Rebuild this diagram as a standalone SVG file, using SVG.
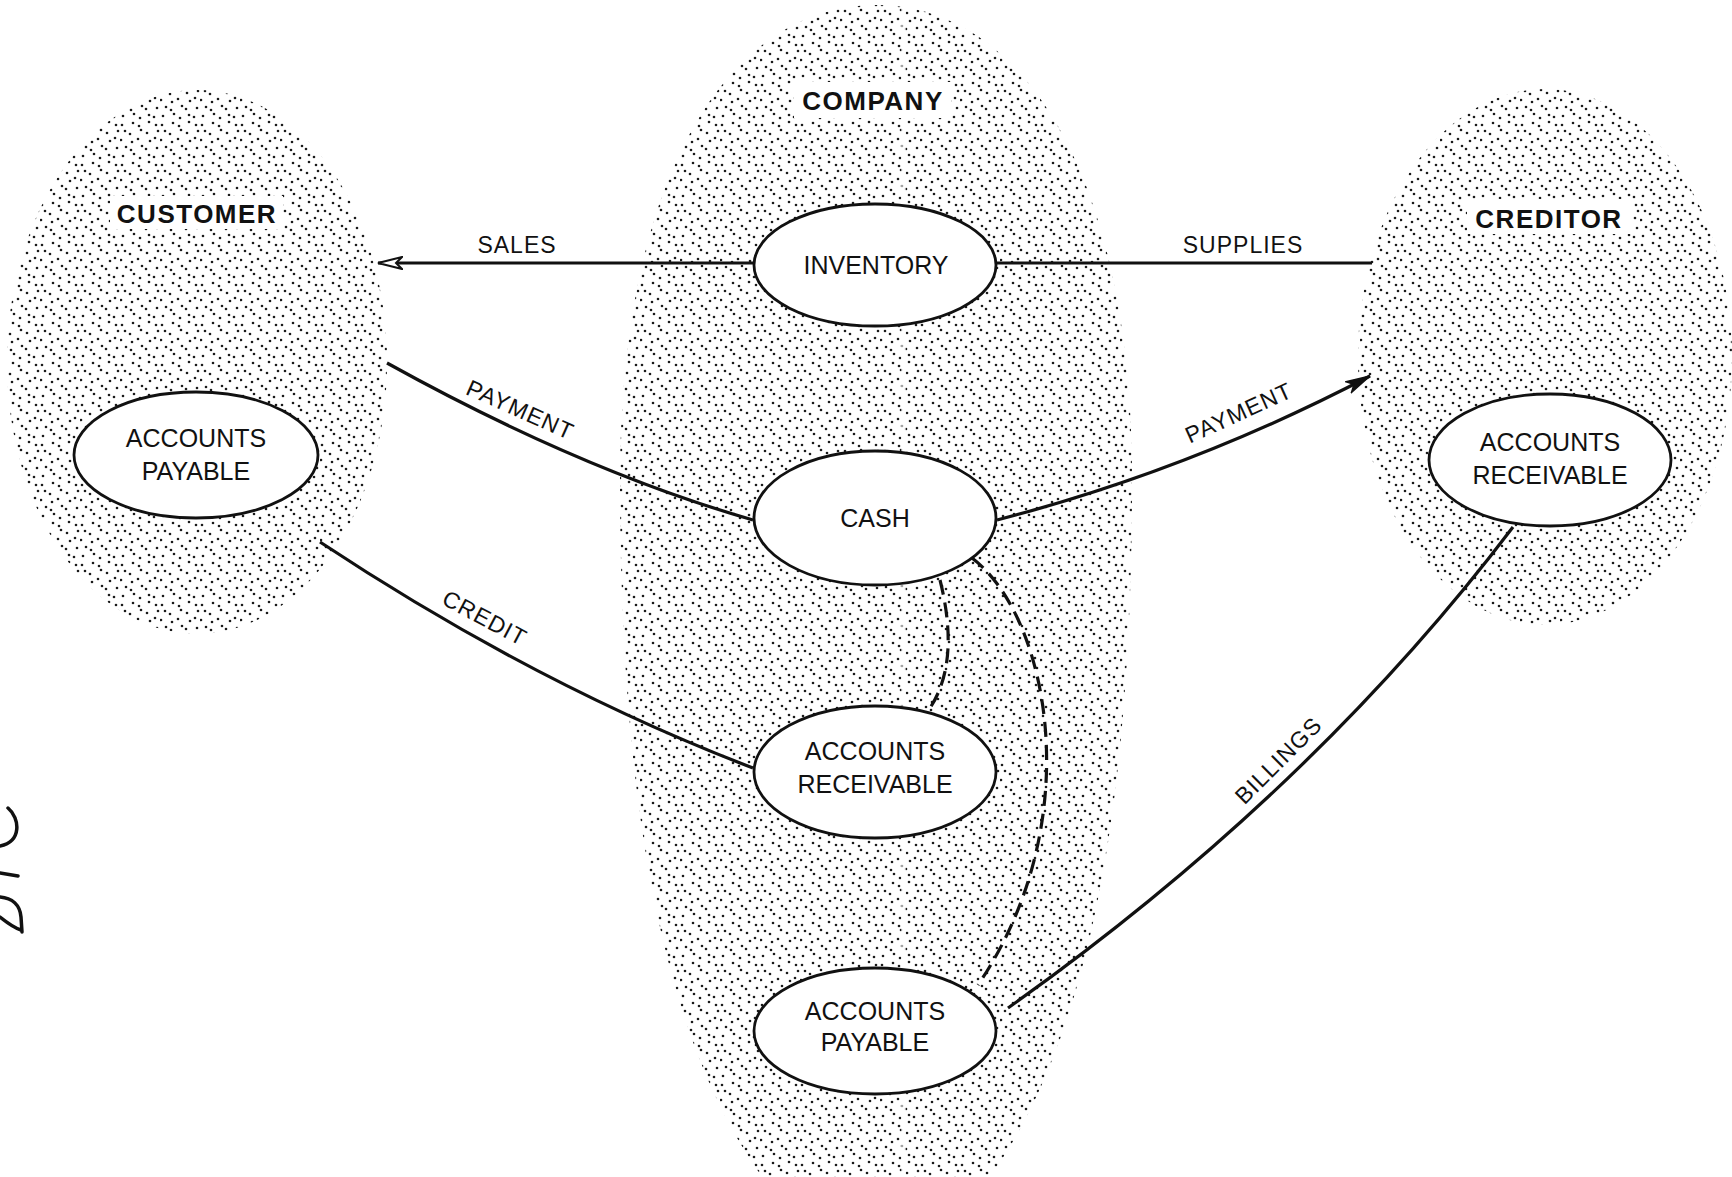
<svg xmlns="http://www.w3.org/2000/svg" width="1732" height="1177" viewBox="0 0 1732 1177">
<style>
.hdr{font-family:"Liberation Sans",Arial,sans-serif;font-size:26px;font-weight:bold;letter-spacing:1.5px;text-anchor:middle;fill:#111}
.node{font-family:"Liberation Sans",Arial,sans-serif;font-size:25px;text-anchor:middle;fill:#111}
.lbl{font-family:"Liberation Sans",Arial,sans-serif;font-size:23px;letter-spacing:1px;text-anchor:middle;fill:#111}
.blob{fill:url(#stipple)}
.oval{fill:#fff;stroke:#111;stroke-width:2.8}
.conn{fill:none;stroke:#111;stroke-width:3.2}
.dash{fill:none;stroke:#111;stroke-width:3.2;stroke-dasharray:15 8}
.box{fill:#fff}
.hand{fill:none;stroke:#111;stroke-width:3.5;stroke-linecap:round}
</style>
<defs>
<pattern id="stipple" width="40" height="40" patternUnits="userSpaceOnUse">
<g fill="#1a1a1a">
<circle cx="2" cy="5" r="1.3"/><circle cx="13" cy="3" r="1.3"/><circle cx="19" cy="6" r="1.3"/><circle cx="29" cy="2" r="1.3"/><circle cx="36" cy="5" r="1.3"/>
<circle cx="5" cy="11" r="1.3"/><circle cx="10" cy="14" r="1.3"/><circle cx="21" cy="10" r="1.3"/><circle cx="27" cy="13" r="1.3"/><circle cx="38" cy="11" r="1.3"/>
<circle cx="1" cy="20" r="1.3"/><circle cx="12" cy="22" r="1.3"/><circle cx="18" cy="19" r="1.3"/><circle cx="30" cy="21" r="1.3"/><circle cx="35" cy="18" r="1.3"/>
<circle cx="6" cy="27" r="1.3"/><circle cx="11" cy="30" r="1.3"/><circle cx="22" cy="26" r="1.3"/><circle cx="26" cy="29" r="1.3"/><circle cx="37" cy="28" r="1.3"/>
<circle cx="3" cy="36" r="1.3"/><circle cx="14" cy="34" r="1.3"/><circle cx="20" cy="38" r="1.3"/><circle cx="29" cy="35" r="1.3"/><circle cx="34" cy="37" r="1.3"/>
</g>
</pattern>
<marker id="arrowOpen" viewBox="0 0 26 14" refX="25" refY="7" markerWidth="26" markerHeight="14" markerUnits="userSpaceOnUse" orient="auto">
<path d="M1,1 L25,7 L1,13 L7,7 Z" fill="#fff" stroke="#111" stroke-width="2"/>
</marker>
<marker id="arrowFilled" viewBox="0 0 26 14" refX="25" refY="7" markerWidth="26" markerHeight="14" markerUnits="userSpaceOnUse" orient="auto">
<path d="M1,1 L25,7 L1,13 L7,7 Z" fill="#111" stroke="#111" stroke-width="1.5"/>
</marker>
</defs>
<rect width="1732" height="1177" fill="#fff"/>

<g id="customer">
<ellipse class="blob" cx="197" cy="362" rx="190" ry="272"/>
<rect class="box" x="110" y="196" width="173" height="33"/>
<text class="hdr" x="197" y="223">CUSTOMER</text>
</g>

<g id="company">
<path class="blob" d="M876,5 C1020,5 1132,170 1132,480 C1132,800 1090,1050 980,1190 L772,1190 C662,1050 620,800 620,480 C620,170 732,5 876,5 Z"/>
<rect x="901" y="5" width="5" height="1172" fill="#fff" opacity="0.6"/>
<rect class="box" x="794" y="82" width="157" height="36"/>
<text class="hdr" x="873" y="110">COMPANY</text>
</g>

<g id="creditor">
<ellipse class="blob" cx="1545" cy="357" rx="187" ry="268"/>
<rect class="box" x="1467" y="199" width="165" height="35"/>
<text class="hdr" x="1549" y="228">CREDITOR</text>
</g>

<g id="connectors">
<path class="conn" d="M755,263 L378,263" marker-end="url(#arrowOpen)"/>
<path class="conn" d="M996,263 L1372,263"/>
<path class="conn" d="M387,363 Q580,470 753,520"/>
<path class="conn" d="M997,520 Q1190,470 1370,376" marker-end="url(#arrowFilled)"/>
<path class="conn" d="M320,542 Q536,685 753,768"/>
<path class="conn" d="M1008,1008 Q1311,793 1513,527"/>
<path class="dash" d="M940,580 C950,620 955,670 930,708"/>
<path class="dash" d="M972,558 C1048,615 1090,820 978,985"/>
<text class="lbl" x="517" y="253">SALES</text>
<text class="lbl" x="1243" y="253">SUPPLIES</text>
<text class="lbl" transform="translate(517,417) rotate(24)">PAYMENT</text>
<text class="lbl" transform="translate(1242,420) rotate(-24.5)">PAYMENT</text>
<text class="lbl" transform="translate(481,625) rotate(28)">CREDIT</text>
<text class="lbl" transform="translate(1284,766) rotate(-45)">BILLINGS</text>
</g>

<g id="customer-ap">
<ellipse class="oval" cx="196" cy="455" rx="122" ry="63"/>
<text class="node" x="196" y="447">ACCOUNTS</text>
<text class="node" x="196" y="480">PAYABLE</text>
</g>

<g id="inventory">
<ellipse class="oval" cx="875" cy="265" rx="121" ry="61"/>
<text class="node" x="876" y="274">INVENTORY</text>
</g>

<g id="cash">
<ellipse class="oval" cx="875" cy="518" rx="121" ry="67"/>
<text class="node" x="875" y="527">CASH</text>
</g>

<g id="company-ar">
<ellipse class="oval" cx="875" cy="772" rx="121" ry="66"/>
<text class="node" x="875" y="760">ACCOUNTS</text>
<text class="node" x="875" y="793">RECEIVABLE</text>
</g>

<g id="company-ap">
<ellipse class="oval" cx="875" cy="1031" rx="121" ry="63"/>
<text class="node" x="875" y="1020">ACCOUNTS</text>
<text class="node" x="875" y="1051">PAYABLE</text>
</g>

<g id="creditor-ar">
<ellipse class="oval" cx="1550" cy="460" rx="121" ry="66"/>
<text class="node" x="1550" y="451">ACCOUNTS</text>
<text class="node" x="1550" y="484">RECEIVABLE</text>
</g>

<g id="handwritten-mark">
<path class="hand" d="M8,808 C20,818 22,842 0,846"/>
<path class="hand" d="M0,873 L18,876"/>
<path class="hand" d="M0,897 C12,898 20,905 21,917 L22,932 M0,917 C10,925 15,928 21,930"/>
</g>
</svg>
